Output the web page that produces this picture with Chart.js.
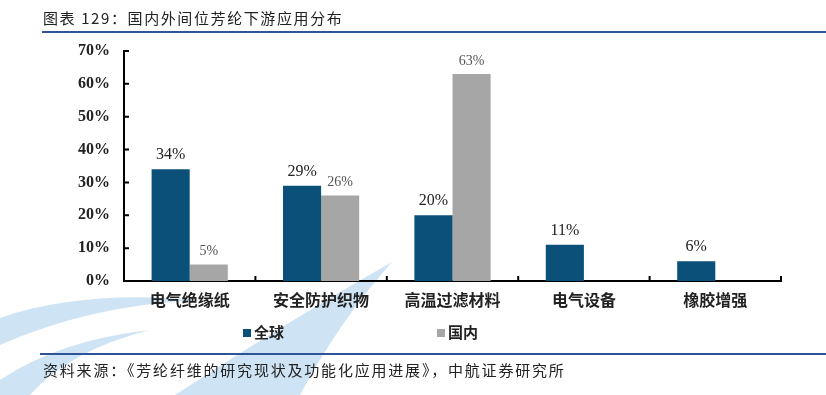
<!DOCTYPE html>
<html>
<head>
<meta charset="utf-8">
<script src="https://cdn.jsdelivr.net/npm/chart.js@4"></script>
<style>
  body { margin: 0; background: #fff; }
  #wrap { position: relative; width: 826px; height: 395px; overflow: hidden; font-family: "Noto Sans CJK SC", sans-serif; }
  #myChart { position: absolute; left: 0; top: 0; }
  .title { position: absolute; left: 43px; top: 7px; font-size: 15px; color: #222; letter-spacing: 1.6px; }
  .rule { position: absolute; left: 42px; right: 0; height: 2px; background: #2f5496; }
  .source { position: absolute; left: 43px; top: 359px; font-size: 15px; color: #222; letter-spacing: 1.8px; }
  .leg { position: absolute; top: 321px; font-size: 15px; font-weight: bold; color: #222; }
  .leg span { display: inline-block; width: 8px; height: 8px; margin-right: 3px; vertical-align: 1px; }
</style>
</head>
<body>
<div id="wrap">
  <canvas id="myChart" width="826" height="395"></canvas>
  <div class="title">图表 129：国内外间位芳纶下游应用分布</div>
  <div class="rule" style="top:31px"></div>
  <div class="leg" style="left:243px"><span style="background:#0b5079"></span>全球</div>
  <div class="leg" style="left:437px"><span style="background:#a6a6a6"></span>国内</div>
  <div class="rule" style="top:353px; left:40px"></div>
  <div class="source">资料来源：《芳纶纤维的研究现状及功能化应用进展》，中航证券研究所</div>
</div>
<script>
var CATEGORIES = ['电气绝缘纸', '安全防护织物', '高温过滤材料', '电气设备', '橡胶增强'];
var GLOBAL = [34, 29, 20, 11, 6];
var DOMESTIC = [5, 26, 63, null, null];
var Y_TICKS = [0, 10, 20, 30, 40, 50, 60, 70];

// faint swoosh watermark behind the chart
const watermark = {
  id: 'watermark',
  beforeDraw(chart) {
    const c = chart.ctx;
    c.save();
    c.fillStyle = 'rgba(190, 218, 240, 0.75)';
    c.beginPath();
    c.moveTo(392, 262);
    c.quadraticCurveTo(290, 320, 175, 395);
    c.lineTo(300, 395);
    c.quadraticCurveTo(340, 320, 392, 262);
    c.fill();
    c.beginPath();
    c.moveTo(0, 318);
    c.quadraticCurveTo(80, 290, 200, 300);
    c.quadraticCurveTo(90, 305, 0, 345);
    c.fill();
    c.beginPath();
    c.moveTo(0, 380);
    c.quadraticCurveTo(60, 340, 150, 330);
    c.quadraticCurveTo(70, 350, 30, 395);
    c.lineTo(0, 395);
    c.fill();
    c.restore();
  }
};

// inward tick marks on both axes
const innerTicks = {
  id: 'innerTicks',
  afterDraw(chart) {
    const c = chart.ctx, x = chart.scales.x, y = chart.scales.y;
    const a = chart.chartArea;
    c.save();
    c.strokeStyle = '#000';
    c.lineWidth = 2;
    c.beginPath();
    Y_TICKS.forEach(v => {
      const py = y.getPixelForValue(v);
      c.moveTo(a.left, py);
      c.lineTo(a.left + 5, py);
    });
    const step = (a.right - a.left) / CATEGORIES.length;
    for (let i = 1; i <= CATEGORIES.length; i++) {
      const px = a.left + step * i;
      c.moveTo(px, a.bottom);
      c.lineTo(px, a.bottom - 5);
    }
    c.stroke();
    c.restore();
  }
};

const valueLabels = {
  id: 'valueLabels',
  afterDatasetsDraw(chart) {
    const c = chart.ctx;
    c.save();
    c.textAlign = 'center';
    c.textBaseline = 'bottom';
    chart.data.datasets.forEach((ds, i) => {
      const meta = chart.getDatasetMeta(i);
      c.font = i === 0 ? '16px "Liberation Serif"' : '14px "Liberation Serif"';
      c.fillStyle = i === 0 ? '#222' : '#555';
      meta.data.forEach((bar, j) => {
        if (ds.data[j] == null) return;
        c.fillText(ds.data[j] + '%', bar.x, bar.y - 6);
      });
    });
    c.restore();
  }
};

const ctx = document.getElementById('myChart');
new Chart(ctx, {
  type: 'bar',
  data: {
    labels: CATEGORIES,
    datasets: [{
      label: '全球',
      data: GLOBAL,
      backgroundColor: '#0b5079',
      categoryPercentage: 0.58,
      barPercentage: 1
    }, {
      label: '国内',
      data: DOMESTIC,
      backgroundColor: '#a6a6a6',
      categoryPercentage: 0.58,
      barPercentage: 1
    }]
  },
  options: {
    responsive: false,
    animation: false,
    layout: { padding: { left: 0, top: 51, right: 45, bottom: 0 } },
    plugins: {
      legend: { display: false },
      tooltip: { enabled: false }
    },
    scales: {
      x: {
        grid: { display: false, drawTicks: false },
        border: { color: '#000', width: 2 },
        ticks: {
          padding: 9,
          color: '#222',
          font: { family: '"Noto Sans CJK SC"', size: 16, weight: 'bold' }
        },
        afterFit: s => { s.height = 114; }
      },
      y: {
        min: 0,
        max: 70,
        grid: { display: false, drawTicks: false },
        border: { color: '#000', width: 2 },
        afterBuildTicks: s => { s.ticks = Y_TICKS.map(v => ({ value: v })); },
        ticks: {
          padding: 14,
          color: '#222',
          font: { family: '"Liberation Serif"', size: 16, weight: 'bold' },
          callback: v => v + '%'
        },
        afterFit: s => { s.width = 124; }
      }
    }
  },
  plugins: [watermark, innerTicks, valueLabels]
});
</script>
</body>
</html>
